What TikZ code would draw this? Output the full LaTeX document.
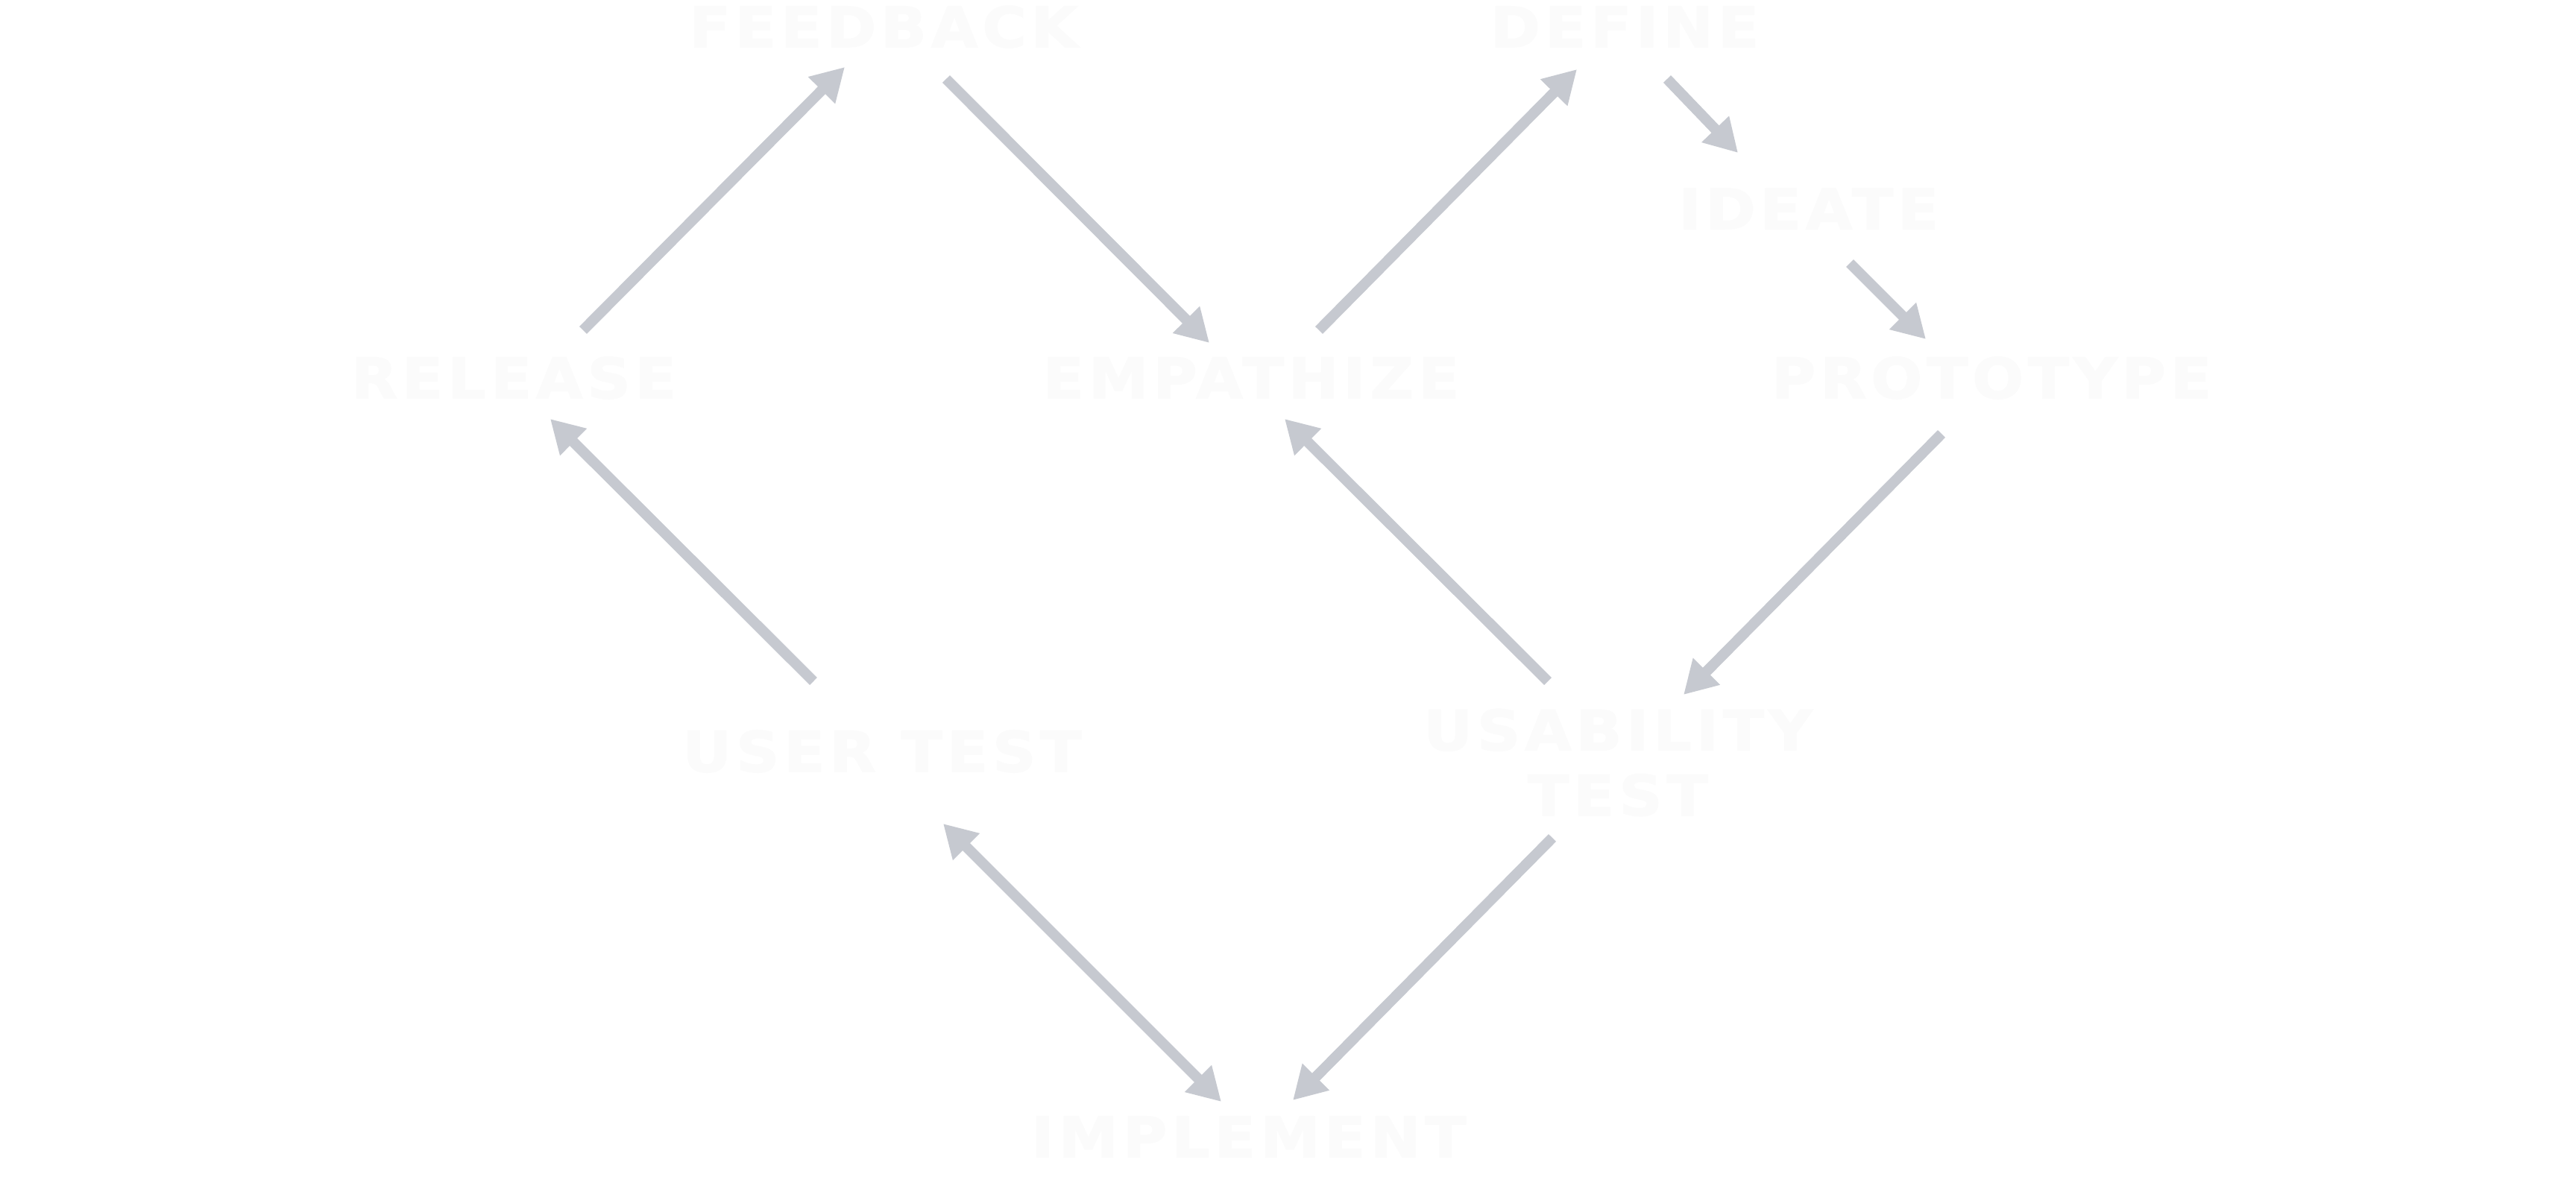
\documentclass[tikz,border=0pt]{standalone}
\usepackage{fontspec}
\usepackage{xcolor}
\usepackage{tikz}
\usetikzlibrary{arrows.meta,positioning,calc}
\newfontfamily\stagefont[LetterSpace=8,FakeStretch=1.08,FakeBold=2]{DejaVu Sans}
\definecolor{arrowgray}{RGB}{198,201,208}
\definecolor{labelwhite}{RGB}{251,251,251}
\begin{document}
\begin{tikzpicture}[
  every node/.style={font=\stagefont\bfseries\fontsize{21.3pt}{24.8pt}\selectfont,text=labelwhite,inner sep=0pt},
  arr/.style={-{Triangle[length=4.4mm,width=4.8mm]},line width=4pt,draw=arrowgray},
  both/.style={{Triangle[length=4.4mm,width=4.8mm]}-{Triangle[length=4.4mm,width=4.8mm]},line width=4pt,draw=arrowgray}]
\useasboundingbox (0,0) rectangle (34.55,15.79);
% stages
\node (feedback)  at (11.85,15.43) {FEEDBACK};
\node (define)    at (21.79,15.43) {DEFINE};
\node (ideate)    at (24.26,12.99) {IDEATE};
\node (release)   at (6.89,10.72)  {RELEASE};
\node (empathize) at (16.78,10.72) {EMPATHIZE};
\node (prototype) at (26.71,10.72) {PROTOTYPE};
\node (usertest)  at (11.83,5.71)  {USER TEST};
\node[align=center] (usability) at (21.70,5.56) {USABILITY\\TEST};
\node (implement) at (16.75,0.54)  {IMPLEMENT};
% flow
\draw[arr] ($(release.center)+(0.93,0.64)$) -- ($(feedback.center)+(-0.52,-0.54)$);
\draw[arr] ($(feedback.center)+(0.84,-0.70)$) -- ($(empathize.center)+(-0.56,0.47)$);
\draw[arr] ($(empathize.center)+(0.91,0.64)$) -- ($(define.center)+(-0.64,-0.57)$);
\draw[arr] ($(define.center)+(0.57,-0.70)$) -- ($(ideate.center)+(-0.95,0.75)$);
\draw[arr] ($(ideate.center)+(0.55,-0.73)$) -- ($(prototype.center)+(-0.88,0.52)$);
\draw[arr] ($(prototype.center)+(-0.67,-0.75)$) -- ($(usability.center)+(0.88,0.91)$);
\draw[arr] ($(usability.center)+(-0.94,1.09)$) -- ($(empathize.center)+(0.45,-0.55)$);
\draw[arr] ($(usability.center)+(-0.88,-1.01)$) -- ($(implement.center)+(0.59,0.49)$);
\draw[both] ($(usertest.center)+(0.82,-0.97)$) -- ($(implement.center)+(-0.37,0.47)$);
\draw[arr] ($(usertest.center)+(-0.92,0.94)$) -- ($(release.center)+(0.49,-0.55)$);
\end{tikzpicture}
\end{document}
